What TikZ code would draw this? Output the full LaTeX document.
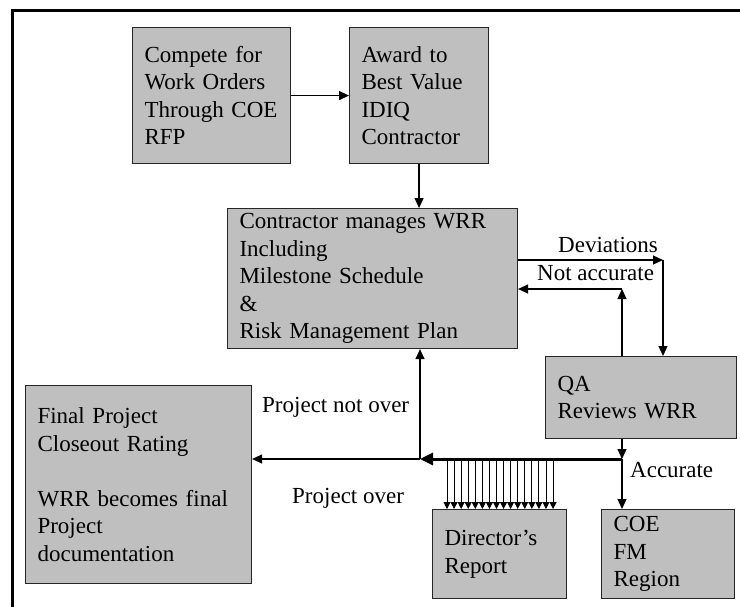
\documentclass[tikz,border=0pt]{standalone}
\usepackage{fontspec}
\setmainfont{Liberation Serif}
\usetikzlibrary{arrows.meta}
\begin{document}
\begin{tikzpicture}[x=1pt,y=-1pt,
  box/.style={draw=black!85, line width=1.1pt, fill=black!25, align=left,
    inner xsep=12pt, inner ysep=0pt, anchor=north west,
    font=\fontsize{23}{27.5}\selectfont},
  arr/.style={line width=1.2pt, -{Triangle[length=10pt,width=9pt]}},
  comb/.style={line width=0.9pt, -{Triangle[length=7pt,width=7pt]}},
  thickarr/.style={line width=3pt, -{Triangle[length=13pt,width=12pt]}},
  lbl/.style={font=\fontsize{23}{27.5}\selectfont, inner sep=0pt, anchor=west}]
\useasboundingbox (0,0) rectangle (740,606);
% outer frame, running off the right and bottom edges
\begin{scope}
  \clip (0,0) rectangle (740,606);
  \draw[line width=3pt] (12,10) rectangle (760,630);
\end{scope}

% process boxes
\node[box, text width=134pt, minimum height=136pt] (b1) at (132,27)
  {Compete for\\Work Orders\\Through COE\\RFP};
\node[box, text width=115pt, minimum height=136pt] (b2) at (349,27)
  {Award to\\Best Value\\IDIQ\\Contractor};
\node[box, text width=266pt, minimum height=140pt] (c) at (227,208)
  {Contractor manages WRR\\Including\\Milestone Schedule\\\&\\Risk Management Plan};
\node[box, text width=167pt, minimum height=82pt] (qa) at (545,356)
  {QA\\Reviews WRR};
\node[box, text width=202pt, minimum height=198pt] (fin) at (25,385)
  {Final Project\\Closeout Rating\\\mbox{}\\WRR becomes final\\Project\\documentation};
\node[box, text width=110pt, minimum height=89pt] (dr) at (432,509)
  {Director’s\\Report};
\node[box, text width=109pt, minimum height=89pt] (coe) at (601,509)
  {COE\\FM\\Region};

% routing points
\coordinate (j) at (622,459);
\coordinate (jn) at (420,459);
\coordinate (dv) at (663,260);
\coordinate (na) at (622,289);

% connectors
\draw[arr] (b1.east) -- (b2.west);
\draw[arr] (b2.south) -- (b2.south |- c.north);
\draw[arr] (c.east |- dv) -- (dv);
\draw[arr] (dv) -- (dv |- qa.north);
\draw[arr] (na |- qa.north) -- (na);
\draw[arr] (na) -- (na -| c.east);
\draw[arr] (qa.south -| j) -- (j);
\draw[arr] (j) -- (j |- coe.north);
\draw[thickarr] (j) -- (jn);
\draw[arr] (jn) -- (jn -| fin.east);
\draw[arr] (jn) -- (jn |- c.south);
\foreach \i in {0,...,15} {
  \path (dr.north west) ++({15+7.07*\i},0) coordinate (t\i);
  \draw[comb] (t\i |- j) -- (t\i);
}

% connector labels
\node[lbl] (ldev) at (558,245) {Deviations};
\node[lbl] (lna) at (537,273) {Not accurate};
\node[lbl] (lpn) at (262,407) {Project not over};
\node[lbl] (lpo) at (292,498) {Project over};
\node[lbl] (lacc) at (630,470) {Accurate};
\end{tikzpicture}
\end{document}
